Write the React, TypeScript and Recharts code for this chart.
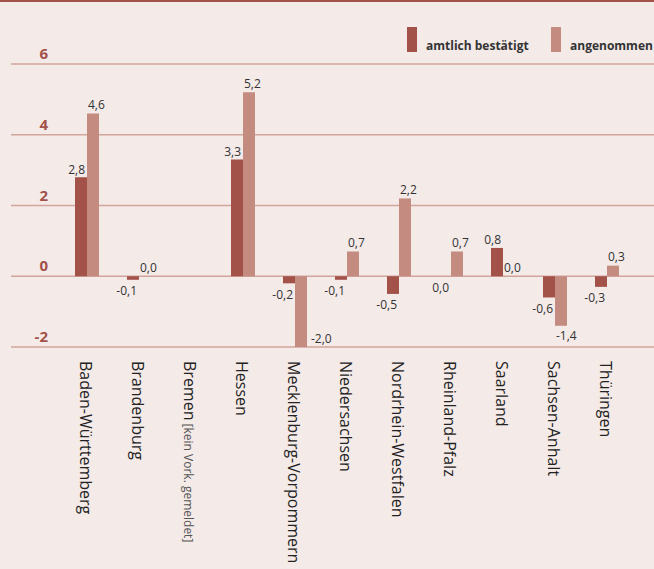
import { BarChart, Bar, XAxis, YAxis, CartesianGrid, Legend, LabelList } from "recharts";

const laender = [
  "Baden-Württemberg",
  "Brandenburg",
  "Bremen",
  "Hessen",
  "Mecklenburg-Vorpommern",
  "Niedersachsen",
  "Nordrhein-Westfalen",
  "Rheinland-Pfalz",
  "Saarland",
  "Sachsen-Anhalt",
  "Thüringen",
];
const amtlich = [2.8, -0.1, null, 3.3, -0.2, -0.1, -0.5, 0.0, 0.8, -0.6, -0.3];
const angenommen = [4.6, 0.0, null, 5.2, -2.0, 0.7, 2.2, 0.7, 0.0, -1.4, 0.3];
const yTicks = [-2, 0, 2, 4, 6];
const Y_MIN = -2;
const Y_MAX = 6;

const DARK = "#a3524a";
const LIGHT = "#c48b81";
const GRID = "#d2a49c";
const BG = "#f4eae8";
const FONT = "'Open Sans', sans-serif";

const data = laender.map((name, i) => ({
  name,
  amtlich: amtlich[i],
  angenommen: angenommen[i],
}));

const fmt = (v: number) => v.toFixed(1).replace(".", ",");

/* ---------------- labels ---------------- */

function DarkLabel(props: any) {
  const { x, y, width, height, value } = props;
  if (value == null) return null;
  const top = Math.min(y, y + height);
  const bottom = Math.max(y, y + height);
  const cy = value > 0 ? top - 8 : bottom + 11;
  return (
    <text x={x + width - 2} y={cy} textAnchor="end" dominantBaseline="central"
      fontSize={12} fill="#333" fontFamily={FONT}>
      {fmt(value)}
    </text>
  );
}

function LightLabel(props: any) {
  const { x, y, width, height, value } = props;
  if (value == null) return null;
  const top = Math.min(y, y + height);
  const bottom = Math.max(y, y + height);
  let lx = x + 1;
  let cy = value >= 0 ? top - 9 : bottom + 10;
  // no room under the grid: put it beside the bar
  if (value <= Y_MIN) {
    lx = x + width + 4;
    cy = bottom - 9;
  }
  return (
    <text x={lx} y={cy} textAnchor="start" dominantBaseline="central"
      fontSize={12} fill="#333" fontFamily={FONT}>
      {fmt(value)}
    </text>
  );
}

/* ---------------- ticks ---------------- */

function CategoryTick(props: any) {
  const { x, y, payload } = props;
  const name: string = payload.value;
  return (
    <g transform={`translate(${x},${y}) rotate(90)`}>
      <text x={0} y={0} dy={7} textAnchor="start" fontSize={16} fill="#222" fontFamily={FONT}>
        {name}
        {name === "Bremen" && (
          <tspan fontSize={12} fill="#555"> [kein Vork. gemeldet]</tspan>
        )}
      </text>
    </g>
  );
}

function ValueTick(props: any) {
  const { y, payload } = props;
  return (
    <text x={48} y={y - 11} textAnchor="end" dominantBaseline="central"
      fontSize={15} fontWeight={700} fill={DARK} fontFamily={FONT}>
      {payload.value}
    </text>
  );
}

function LegendBox() {
  const items = [
    { label: "amtlich bestätigt", color: DARK, x: 0 },
    { label: "angenommen", color: LIGHT, x: 144 },
  ];
  return (
    <svg width={247} height={30} style={{ display: "block", overflow: "visible" }}>
      {items.map((it) => (
        <g key={it.label}>
          <rect x={it.x} y={0} width={10} height={25} fill={it.color} />
          <text x={it.x + 19} y={23} fontSize={12} fontWeight={700} fill="#333" fontFamily={FONT}>
            {it.label}
          </text>
        </g>
      ))}
    </svg>
  );
}

// zero values still need their label, so give them an invisible sliver
const sliver = (v: any) => (v === 0 ? 0.01 : 0);

export default function App() {
  return (
    <div style={{ position: "fixed", top: 0, left: 0, width: 654, height: 569, background: BG, overflow: "hidden" }}>
      <div style={{ position: "absolute", top: 0, left: 0, width: 654, height: 2, background: DARK }} />
      <BarChart
        width={654}
        height={569}
        data={data}
        margin={{ top: 64, right: 0, bottom: 0, left: 0 }}
        barCategoryGap={14}
        barGap={0}
      >
        <CartesianGrid vertical={false} stroke={GRID} strokeWidth={1.5} />
        <XAxis
          dataKey="name"
          height={222}
          interval={0}
          axisLine={false}
          tickLine={false}
          tickSize={0}
          tickMargin={14}
          padding={{ left: 50, right: 21 }}
          tick={<CategoryTick />}
        />
        <YAxis
          width={11}
          domain={[Y_MIN, Y_MAX]}
          ticks={yTicks}
          interval={0}
          axisLine={false}
          tickLine={false}
          tick={<ValueTick />}
        />
        <Legend
          layout="vertical"
          align="center"
          verticalAlign="middle"
          content={<LegendBox />}
          wrapperStyle={{ top: 27, left: 407, width: 247, height: 30 }}
        />
        <Bar dataKey="amtlich" name="amtlich bestätigt" fill={DARK} barSize={12}
          minPointSize={sliver} isAnimationActive={false}>
          <LabelList dataKey="amtlich" content={<DarkLabel />} />
        </Bar>
        <Bar dataKey="angenommen" name="angenommen" fill={LIGHT} barSize={12}
          minPointSize={sliver} isAnimationActive={false}>
          <LabelList dataKey="angenommen" content={<LightLabel />} />
        </Bar>
      </BarChart>
    </div>
  );
}
